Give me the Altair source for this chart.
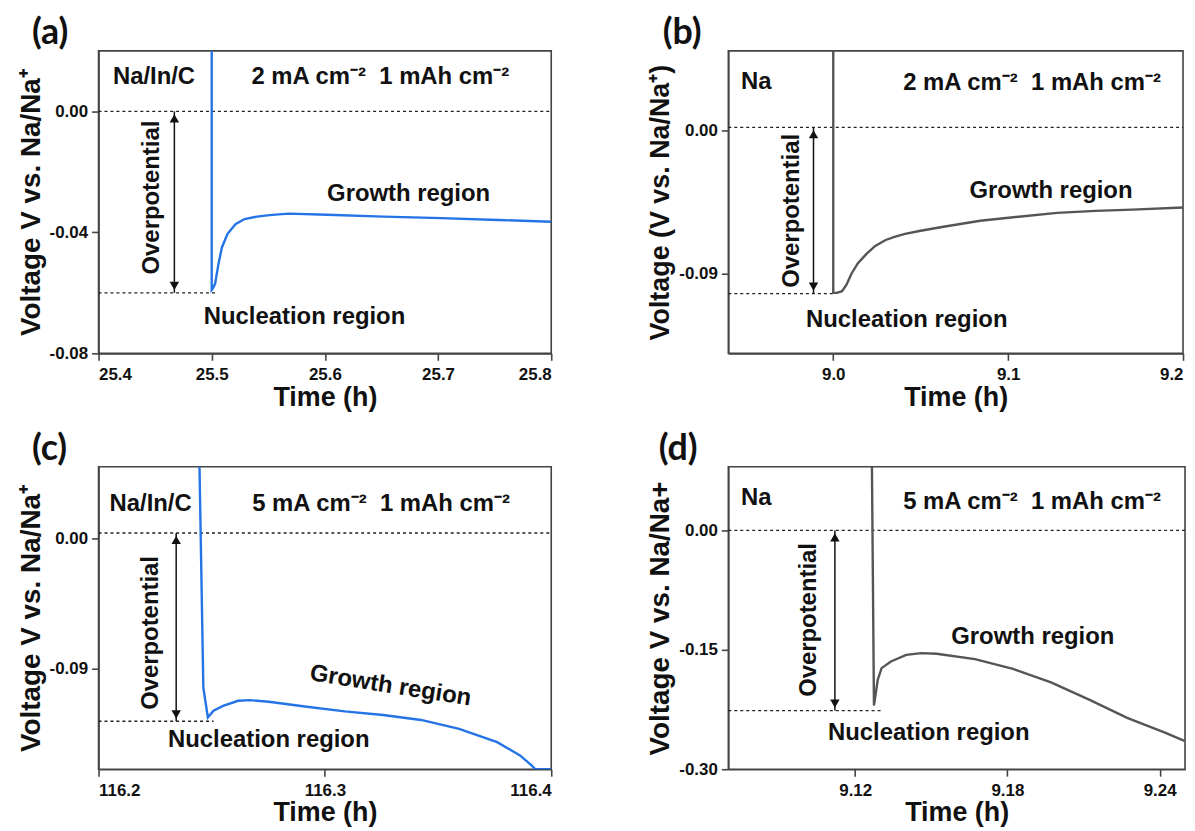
import altair as alt
import pandas as pd

FONT = "Liberation Sans"
BLUE = "#2474e6"
GRAY = "#555555"
GAP = "\u00a0\u00a0"

# ---------------- panel (a) ----------------
A_TIME = [25.5, 25.5, 25.501, 25.503, 25.506, 25.509, 25.514, 25.521, 25.529, 25.54,
          25.551, 25.568, 25.602, 25.652, 25.703, 25.753, 25.8]
A_VOLT = [0.02, -0.059, -0.0585, -0.057, -0.0504, -0.045, -0.0405, -0.0373, -0.0356,
          -0.0348, -0.0343, -0.0338, -0.0342, -0.0348, -0.0353, -0.0359, -0.0365]
A_XTICKS = [25.4, 25.5, 25.6, 25.7, 25.8]
A_YTICKS = [0.0, -0.04, -0.08]

# ---------------- panel (b) ----------------
B_TIME = [9.0, 9.0, 9.002, 9.005, 9.0075, 9.0104, 9.014, 9.019, 9.024, 9.030, 9.035,
          9.041, 9.05, 9.063, 9.084, 9.106, 9.128, 9.150, 9.171, 9.2]
B_VOLT = [0.05, -0.102, -0.102, -0.101, -0.097, -0.09, -0.0835, -0.0775, -0.0725,
          -0.0688, -0.0668, -0.065, -0.063, -0.0605, -0.0567, -0.0542, -0.0518, -0.0505,
          -0.0497, -0.0484]
B_XTICKS = [9.0, 9.1, 9.2]
B_YTICKS = [0.0, -0.09]

# ---------------- panel (c) ----------------
C_TIME = [116.2446, 116.2463, 116.2483, 116.2508, 116.255, 116.2617, 116.2668, 116.2752,
          116.292, 116.3088, 116.3257, 116.3425, 116.3593, 116.3761, 116.3862, 116.3913,
          116.393, 116.4]
C_VOLT = [0.05, -0.1033, -0.124, -0.1194, -0.116, -0.1125, -0.112, -0.1132, -0.1166,
          -0.1198, -0.1224, -0.1258, -0.132, -0.1412, -0.1504, -0.1573, -0.16, -0.16]
C_XTICKS = [116.2, 116.3, 116.4]
C_YTICKS = [0.0, -0.09]

# ---------------- panel (d) ----------------
D_TIME = [9.1266, 9.1274, 9.1289, 9.1304, 9.1341, 9.1401, 9.1461, 9.1521, 9.1672,
          9.1822, 9.1972, 9.2122, 9.2272, 9.2421, 9.25]
D_VOLT = [0.08, -0.22, -0.1875, -0.173, -0.1646, -0.1563, -0.1542, -0.155, -0.1617,
          -0.174, -0.1908, -0.2125, -0.2354, -0.254, -0.2646]
D_XTICKS = [9.12, 9.18, 9.24]
D_YTICKS = [0.0, -0.15, -0.30]

COND2 = "2 mA cm\u207b\u00b2" + GAP + "1 mAh cm\u207b\u00b2"
COND5 = "5 mA cm\u207b\u00b2" + GAP + "1 mAh cm\u207b\u00b2"

# panel settings: domains, reference levels (zero / nucleation), annotation anchors
PANELS = {
    "a": dict(t=A_TIME, v=A_VOLT, color=BLUE, xdom=[25.4, 25.8], ydom=[-0.08, 0.02],
              xticks=A_XTICKS, yticks=A_YTICKS, xfmt=".1f", yfmt=".2f",
              ytitle="Voltage V vs. Na/Na\u207a", ytsize=28, zero=0.0, nuc=-0.060,
              nuc_end=25.503, arrow_x=25.467, electrode="Na/In/C",
              electrode_xy=(25.449, 0.0115), cond=COND2, cond_xy=(25.649, 0.0115),
              growth_xy=(25.674, -0.0272), growth_angle=0,
              nucl_xy=(25.582, -0.068), over_xy=(25.447, -0.0285),
              width=455, height=304, lx=-67),
    "b": dict(t=B_TIME, v=B_VOLT, color=GRAY, xdom=[8.94, 9.2], ydom=[-0.14, 0.05],
              xticks=B_XTICKS, yticks=B_YTICKS, xfmt=".1f", yfmt=".2f",
              ytitle="Voltage (V vs. Na/Na\u207a)", ytsize=27, zero=0.002, nuc=-0.1025,
              nuc_end=9.0, arrow_x=8.9887, electrode="Na", electrode_xy=(8.956, 0.0306),
              cond=COND2, cond_xy=(9.1137, 0.0300),
              growth_xy=(9.1245, -0.038), growth_angle=0,
              nucl_xy=(9.042, -0.119), over_xy=(8.9767, -0.0505),
              width=457, height=304, lx=-66),
    "c": dict(t=C_TIME, v=C_VOLT, color=BLUE, xdom=[116.2, 116.4], ydom=[-0.16, 0.05],
              xticks=C_XTICKS, yticks=C_YTICKS, xfmt=".1f", yfmt=".2f",
              ytitle="Voltage V vs. Na/Na\u207a", ytsize=28, zero=0.004, nuc=-0.1267,
              nuc_end=116.2508, arrow_x=116.2343, electrode="Na/In/C",
              electrode_xy=(116.223, 0.0241), cond=COND5, cond_xy=(116.3248, 0.0241),
              growth_xy=(116.329, -0.1022), growth_angle=9,
              nucl_xy=(116.2752, -0.14), over_xy=(116.223, -0.0654),
              width=455, height=304, lx=-67),
    "d": dict(t=D_TIME, v=D_VOLT, color=GRAY, xdom=[9.07, 9.25], ydom=[-0.30, 0.08],
              xticks=D_XTICKS, yticks=D_YTICKS, xfmt=".2f", yfmt=".2f",
              ytitle="Voltage V vs. Na/Na+", ytsize=28, zero=0.0, nuc=-0.2263,
              nuc_end=9.1311, arrow_x=9.112, electrode="Na", electrode_xy=(9.081, 0.0408),
              cond=COND5, cond_xy=(9.1897, 0.0354),
              growth_xy=(9.19, -0.134), growth_angle=0,
              nucl_xy=(9.149, -0.254), over_xy=(9.1018, -0.1125),
              width=459, height=304, lx=-70),
}

FIX_MINUS = "replace(datum.label, '\u2212', '-')"
ANN = dict(font=FONT, fontWeight="bold", fontSize=24, color="#111", align="center",
           baseline="middle")


def make_panel(key, p):
    xscale = alt.Scale(domain=p["xdom"], nice=False, zero=False)
    yscale = alt.Scale(domain=p["ydom"], nice=False, zero=False)
    xaxis = alt.Axis(values=p["xticks"], format=p["xfmt"], labelExpr=FIX_MINUS,
                     title="Time (h)", grid=False)
    yaxis = alt.Axis(values=p["yticks"], format=p["yfmt"], labelExpr=FIX_MINUS,
                     title=p["ytitle"], titleFontSize=p["ytsize"], grid=False)

    def X(f):
        return alt.X(f, type="quantitative", scale=xscale, axis=xaxis)

    def Y(f):
        return alt.Y(f, type="quantitative", scale=yscale, axis=yaxis)

    curve = pd.DataFrame({"t": p["t"], "v": p["v"]})
    refs = pd.DataFrame({
        "x": [p["xdom"][0], p["xdom"][0]],
        "x2": [p["xdom"][1], p["nuc_end"]],
        "y": [p["zero"], p["nuc"]],
    })
    arrow = pd.DataFrame({"x": [p["arrow_x"]], "y": [p["zero"]], "y2": [p["nuc"]]})
    tip_up = pd.DataFrame({"x": [p["arrow_x"]], "y": [p["zero"]]})
    tip_dn = pd.DataFrame({"x": [p["arrow_x"]], "y": [p["nuc"]]})
    labels = pd.DataFrame({
        "x": [p["electrode_xy"][0], p["cond_xy"][0], p["nucl_xy"][0]],
        "y": [p["electrode_xy"][1], p["cond_xy"][1], p["nucl_xy"][1]],
        "txt": [p["electrode"], p["cond"], "Nucleation region"],
    })
    growth = pd.DataFrame({"x": [p["growth_xy"][0]], "y": [p["growth_xy"][1]],
                           "txt": ["Growth region"]})
    over = pd.DataFrame({"x": [p["over_xy"][0]], "y": [p["over_xy"][1]],
                         "txt": ["Overpotential"]})
    tag = pd.DataFrame({"txt": [f"({key})"]})

    ref_layer = alt.Chart(refs).mark_rule(
        color="#222", strokeDash=[3, 3], strokeWidth=1.3
    ).encode(x=X("x"), x2="x2", y=Y("y"))

    line_layer = alt.Chart(curve).mark_line(
        color=p["color"], strokeWidth=2.4, clip=True
    ).transform_window(idx="row_number()").encode(
        x=X("t"), y=Y("v"), order=alt.Order("idx:Q"))

    shaft = alt.Chart(arrow).mark_rule(color="#111", strokeWidth=1.5).encode(
        x=X("x"), y=Y("y"), y2="y2")
    up = alt.Chart(tip_up).mark_point(
        shape="triangle-up", filled=True, color="#111", size=90, opacity=1, yOffset=7
    ).encode(x=X("x"), y=Y("y"))
    dn = alt.Chart(tip_dn).mark_point(
        shape="triangle-down", filled=True, color="#111", size=90, opacity=1, yOffset=-7
    ).encode(x=X("x"), y=Y("y"))

    txt = alt.Chart(labels).mark_text(**ANN).encode(x=X("x"), y=Y("y"), text="txt:N")
    gtxt = alt.Chart(growth).mark_text(**ANN, angle=p["growth_angle"]).encode(
        x=X("x"), y=Y("y"), text="txt:N")
    otxt = alt.Chart(over).mark_text(**ANN, angle=270).encode(
        x=X("x"), y=Y("y"), text="txt:N")

    # panel tag "(a)" etc., placed above the top-left corner of the plot frame
    ttxt = alt.Chart(tag).mark_text(
        font="Lato", fontWeight="bold", fontSize=36, color="#111", align="left",
        baseline="alphabetic"
    ).encode(x=alt.value(p["lx"]), y=alt.value(-7), text="txt:N")

    return alt.layer(ref_layer, line_layer, shaft, up, dn, txt, gtxt, otxt, ttxt).properties(
        width=p["width"], height=p["height"],
    )


pa, pb, pc, pd_ = (make_panel(k, PANELS[k]) for k in ["a", "b", "c", "d"])

chart = alt.concat(
    pa, pb, pc, pd_, columns=2,
    spacing={"row": 114, "column": 178},
    align={"row": "all", "column": "none"},
    bounds="flush",
).properties(
    padding={"left": 8, "top": 4, "right": 0, "bottom": 0},
    background="white",
).configure_view(
    stroke="#444", strokeWidth=1.6
).configure_axis(
    labelFont=FONT, labelFontWeight="bold", labelFontSize=17, labelColor="#111",
    titleFont=FONT, titleFontWeight="bold", titleColor="#111",
    domainColor="#444", domainWidth=1.6, tickColor="#444", tickWidth=1.6, tickSize=7,
).configure_axisX(
    titleFontSize=27, labelPadding=6, titlePadding=2
).configure_axisY(
    labelPadding=4, titlePadding=4
)

chart.save("out.html", embed_options={"renderer": "svg", "actions": False})
